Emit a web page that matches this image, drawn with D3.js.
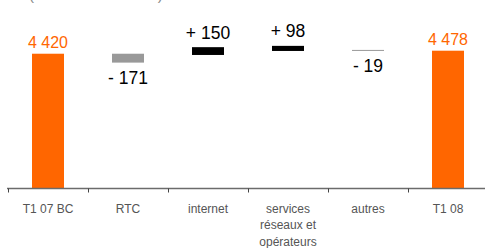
<!DOCTYPE html>
<html lang="fr">
<head>
<meta charset="UTF-8">
<title></title>
<script src="https://cdn.jsdelivr.net/npm/d3@7/dist/d3.min.js"></script>
<style>
    body { margin: 0; background: #fff; }
    text { font-family: "Liberation Sans", Arial, Helvetica, sans-serif; }
</style>
</head>
<body>
<div id="chart"></div>
<script>
// data
var categories = ["T1 07 BC", "RTC", "internet", "services réseaux et opérateurs", "autres", "T1 08"];
var labelLines = [["T1 07 BC"], ["RTC"], ["internet"], ["services", "réseaux et", "opérateurs"], ["autres"], ["T1 08"]];
var values = [4420, -171, 150, 98, -19, 4478];
var kinds = ["total", "down", "up", "up", "down", "total"];
// bottom of the floating bars as drawn in the source slide (not strictly cumulative)
var floatBottoms = [null, 4249, 4396, 4473, 4474, null];

var width = 485, height = 248;
var orange = "#ff6600";

var svg = d3.select("#chart").append("svg")
    .attr("width", width)
    .attr("height", height);

var x = d3.scaleBand()
    .domain(categories)
    .range([8, 488])
    .paddingInner(0.6)
    .paddingOuter(0.3);

// truncated value axis, as in the original slide
var y = d3.scaleLinear()
    .domain([1838, 5453])
    .range([188, 0]);

var step = x.step();

// unit line, cut off at the top edge like in the source
svg.append("text")
    .attr("x", 29)
    .attr("y", 0)
    .attr("font-size", 15)
    .attr("fill", "#888")
    .text("(en millions d'euros)");

var bars = categories.map(function (c, i) {
    var lo, hi;
    if (kinds[i] === "total") {
        lo = y.domain()[0];
        hi = values[i];
    } else {
        lo = floatBottoms[i];
        hi = lo + Math.abs(values[i]);
    }
    return { cat: c, i: i, lo: lo, hi: hi, kind: kinds[i], v: values[i] };
});

svg.selectAll("rect.bar")
    .data(bars)
    .enter().append("rect")
    .attr("class", "bar")
    .attr("x", function (d) { return x(d.cat); })
    .attr("width", x.bandwidth())
    .attr("y", function (d) { return y(d.hi); })
    .attr("height", function (d) { return Math.max(1, y(d.lo) - y(d.hi)); })
    .attr("fill", function (d) {
        if (d.kind === "total") return orange;
        if (d.kind === "up") return "#000";
        return "#999";
    });

var fmt = function (v) { return d3.format(",")(Math.abs(v)).replace(/,/g, " "); };

svg.selectAll("text.val")
    .data(bars)
    .enter().append("text")
    .attr("class", "val")
    .attr("text-anchor", "middle")
    .attr("x", function (d) { return x(d.cat) + x.bandwidth() / 2; })
    .attr("y", function (d) {
        if (d.kind === "total") return y(d.hi) - 6;
        if (d.kind === "up") return y(d.hi) - 8.5;
        return y(d.lo) + 21.5;
    })
    .attr("font-size", function (d) { return d.kind === "total" ? 16 : 17.5; })
    .attr("fill", function (d) { return d.kind === "total" ? orange : "#000"; })
    .text(function (d) {
        if (d.kind === "total") return fmt(d.v);
        return (d.v < 0 ? "- " : "+ ") + fmt(d.v);
    });

// category axis
var axisY = 188.5;
svg.append("line")
    .attr("x1", 7).attr("x2", width)
    .attr("y1", axisY).attr("y2", axisY)
    .attr("stroke", "#6b6b6b")
    .attr("stroke-width", 1.5);

svg.selectAll("line.tick")
    .data(categories)
    .enter().append("line")
    .attr("class", "tick")
    .attr("x1", function (c) { return Math.round(x(c) - x.paddingOuter() * step) + 0.5; })
    .attr("x2", function (c) { return Math.round(x(c) - x.paddingOuter() * step) + 0.5; })
    .attr("y1", axisY)
    .attr("y2", axisY + 4)
    .attr("stroke", "#444")
    .attr("stroke-width", 1);

var cat = svg.selectAll("text.cat")
    .data(categories)
    .enter().append("text")
    .attr("class", "cat")
    .attr("text-anchor", "middle")
    .attr("font-size", 12)
    .attr("fill", "#555")
    .attr("x", function (c) { return x(c) + x.bandwidth() / 2; })
    .attr("y", 213);

cat.selectAll("tspan")
    .data(function (c, i) { return labelLines[i]; })
    .enter().append("tspan")
    .attr("x", function () { return d3.select(this.parentNode).attr("x"); })
    .attr("dy", function (d, j) { return j === 0 ? 0 : 16.3; })
    .text(function (d) { return d; });
</script>
</body>
</html>
